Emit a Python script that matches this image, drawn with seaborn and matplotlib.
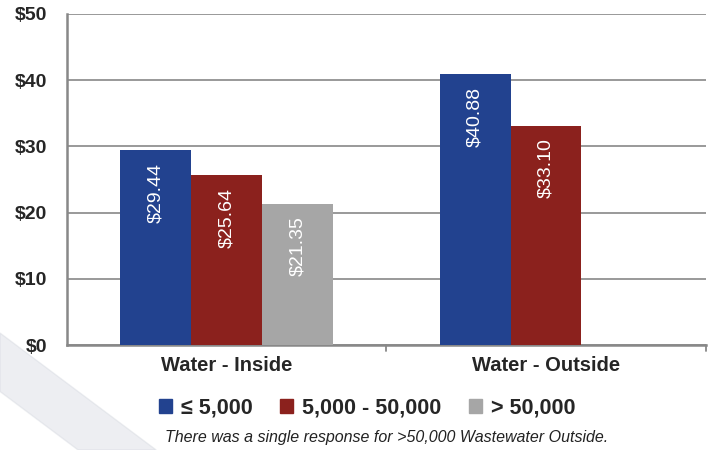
import numpy as np
import pandas as pd
import seaborn as sns
import matplotlib.pyplot as plt
from matplotlib.patches import Polygon

# data
categories = ['Water - Inside', 'Water - Outside']
groups = ['\u2264 5,000', '5,000 - 50,000', '> 50,000']
small = [29.44, 40.88]
medium = [25.64, 33.10]
large = [21.35, np.nan]   # single response, not shown
y_ticks = [0, 10, 20, 30, 40, 50]
palette = ['#22428F', '#8B211D', '#A6A6A6']

df = pd.DataFrame({
    'Category': categories * 3,
    'Group': [groups[0]] * 2 + [groups[1]] * 2 + [groups[2]] * 2,
    'Cost': small + medium + large,
})

sns.set_style('white')
plt.rcParams['font.family'] = ['Liberation Sans', 'DejaVu Sans']

fig = plt.figure(figsize=(7.1, 4.5), dpi=100)
ax = fig.add_axes([0.094, 0.233, 0.9, 0.736])

# faint decorative swoosh in the lower left corner
swoosh = Polygon([[0, 0.26], [0.22, 0.0], [0.11, 0.0], [0.0, 0.13]],
                 closed=True, transform=fig.transFigure, color='#CDD1DA',
                 alpha=0.35, zorder=-5)
fig.patches.append(swoosh)

sns.barplot(data=df, x='Category', y='Cost', hue='Group', palette=palette,
            width=0.665, saturation=1, linewidth=0, ax=ax, legend=False,
            zorder=3)

# white rotated value labels inside the bars
for bars in ax.containers:
    for bar in bars:
        h = bar.get_height()
        if np.isnan(h):
            continue
        ax.annotate(f'${h:.2f}', (bar.get_x() + bar.get_width() / 2, h),
                    xytext=(0, -9), textcoords='offset points',
                    rotation=90, ha='center', va='top', color='white',
                    fontsize=14, zorder=4)

ax.set_ylim(0, 50)
ax.set_xlim(-0.5, 1.5)
ax.set_yticks(y_ticks)
ax.set_yticklabels([f'${v}' for v in y_ticks], fontsize=14, fontweight='bold')
ax.set_xticks([0, 1])
ax.set_xticklabels(categories, fontsize=14.5, fontweight='bold')
ax.tick_params(axis='x', length=0, pad=8)
ax.tick_params(axis='y', length=6, color='#888888', width=1.3, pad=8)
ax.set_xlabel('')
ax.set_ylabel('')

ax.yaxis.grid(True, color='#999999', linewidth=1.4, zorder=0)
ax.set_axisbelow(True)
for side in ['top', 'right']:
    ax.spines[side].set_visible(False)
for side in ['left', 'bottom']:
    ax.spines[side].set_color('#888888')
    ax.spines[side].set_linewidth(1.8)

# category separator ticks on the x axis
for xpos in [0.5, 1.5]:
    ax.plot([xpos, xpos], [0, -0.9], color='#888888', lw=1.3,
            clip_on=False, zorder=5)

# legend
handles = [plt.Rectangle((0, 0), 1, 1, color=c) for c in palette]
fig.legend(handles, groups, loc='center', bbox_to_anchor=(0.517, 0.093),
           ncol=3, frameon=False, handlelength=0.6, handleheight=0.6,
           columnspacing=1.3, handletextpad=0.4,
           prop={'size': 15.5, 'weight': 'bold'})

fig.text(0.545, 0.027, 'There was a single response for >50,000 Wastewater Outside.',
         ha='center', va='center', fontsize=11.5, style='italic', color='#222222')

fig.savefig('out.png', dpi=100)
